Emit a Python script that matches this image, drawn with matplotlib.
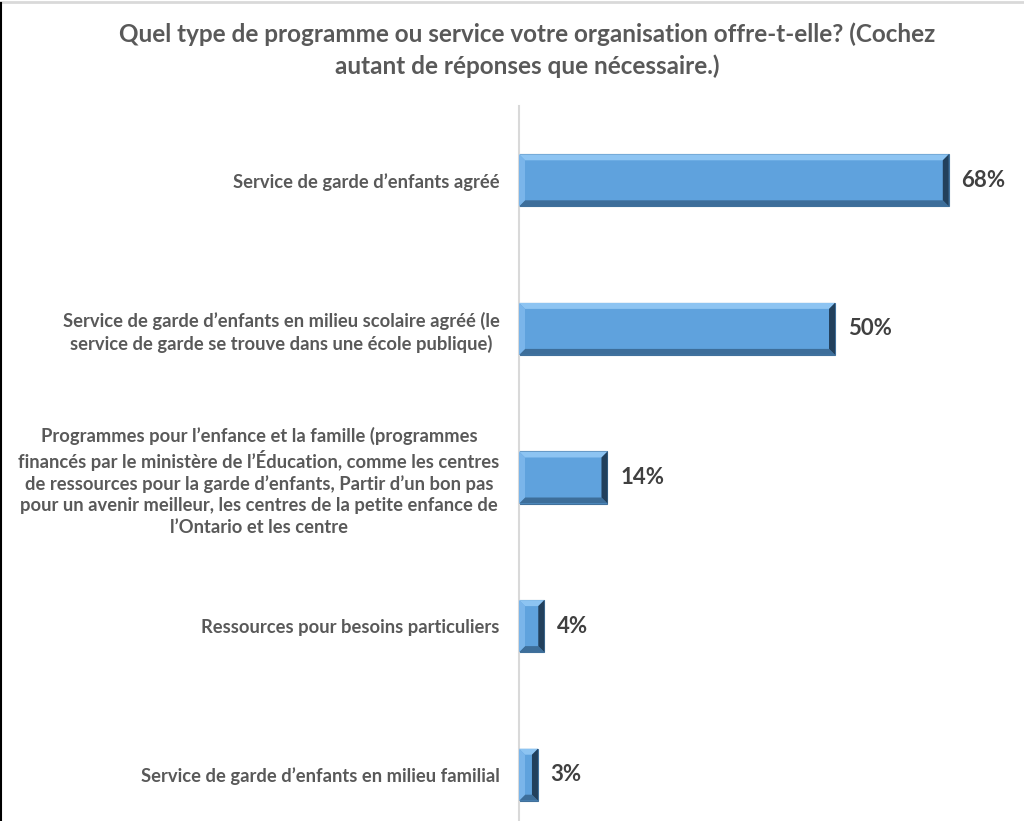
import matplotlib.pyplot as plt
from matplotlib.patches import Polygon
from matplotlib.lines import Line2D

categories = [
    "Service de garde d\u2019enfants agréé",
    "Service de garde d\u2019enfants en milieu scolaire agréé (le\nservice de garde se trouve dans une école publique)",
    "Programmes pour l\u2019enfance et la famille (programmes\nfinancés par le ministère de l\u2019Éducation, comme les centres\nde ressources pour la garde d\u2019enfants, Partir d\u2019un bon pas\npour un avenir meilleur, les centres de la petite enfance de\nl\u2019Ontario et les centre",
    "Ressources pour besoins particuliers",
    "Service de garde d\u2019enfants en milieu familial",
]
values = [68, 50, 14, 4, 3]
title = "Quel type de programme ou service votre organisation offre-t-elle? (Cochez\nautant de réponses que nécessaire.)"

W, H, DPI = 1024, 821, 100
plt.rcParams['font.family'] = ['Lato', 'DejaVu Sans']
fig = plt.figure(figsize=(W / DPI, H / DPI), dpi=DPI)
ax = fig.add_axes([519 / W, -28 / H, (1012 - 519) / W, (849 - 106) / H])

ypos = list(range(len(values)))
bars = ax.barh(ypos, values, height=0.35, color="#5FA2DD", edgecolor="#41719C", linewidth=0.8, zorder=2)
ax.set_xlim(0, 78)
ax.set_ylim(len(values) - 0.5, -0.5)

ax.set_yticks(ypos)
ax.set_yticklabels(categories, fontsize=13.2, fontweight='bold', color="#595959")
for t in ax.get_yticklabels():
    t.set_multialignment('center')
    t.set_linespacing(1.3)
ax.tick_params(axis='y', length=0, pad=14)
ax.set_xticks([])
for s in ['top', 'right', 'bottom']:
    ax.spines[s].set_visible(False)
ax.spines['left'].set_color("#D9D9D9")
ax.spines['left'].set_linewidth(1.5)

# bevel effect, computed in pixels
fig.canvas.draw()
b = 6
for bar, v in zip(bars, values):
    (x0, y0), (x1, y1) = ax.transData.transform([(bar.get_x(), bar.get_y()),
                                                  (bar.get_x() + bar.get_width(), bar.get_y() + bar.get_height())])
    ylo, yhi = min(y0, y1), max(y0, y1)
    d = min(b, (x1 - x0) / 3)
    faces = [
        ([(x0, yhi), (x1, yhi), (x1 - d, yhi - b), (x0 + d, yhi - b)], "#8DC4F2"),
        ([(x0, ylo), (x1, ylo), (x1 - d, ylo + b), (x0 + d, ylo + b)], "#3D6E9A"),
        ([(x1, ylo), (x1, yhi), (x1 - d, yhi - b), (x1 - d, ylo + b)], "#22405C"),
        ([(x0, ylo), (x0, yhi), (x0 + d, yhi - b), (x0 + d, ylo + b)], "#7AB5EA"),
    ]
    for pts, c in faces:
        fig.patches.append(Polygon(pts, closed=True, facecolor=c, edgecolor='none',
                                   transform=None, figure=fig, zorder=3))
    ax.text(v + 2.0, bar.get_y() + bar.get_height() / 2, f"{v}%", ha='left', va='center',
            fontsize=16, fontweight='bold', color="#404040")

fig.text(527 / W, 1 - 50 / H, title, ha='center', va='center', fontsize=17.5,
         fontweight='bold', color="#595959", linespacing=1.4)

fig.add_artist(Line2D([0, 1], [1 - 2 / H, 1 - 2 / H], color="#D9D9D9", linewidth=2, transform=fig.transFigure))
fig.add_artist(Line2D([1 / W, 1 / W], [0, 1 - 3 / H], color="black", linewidth=1.5, transform=fig.transFigure))

fig.savefig("out.png", dpi=DPI)
